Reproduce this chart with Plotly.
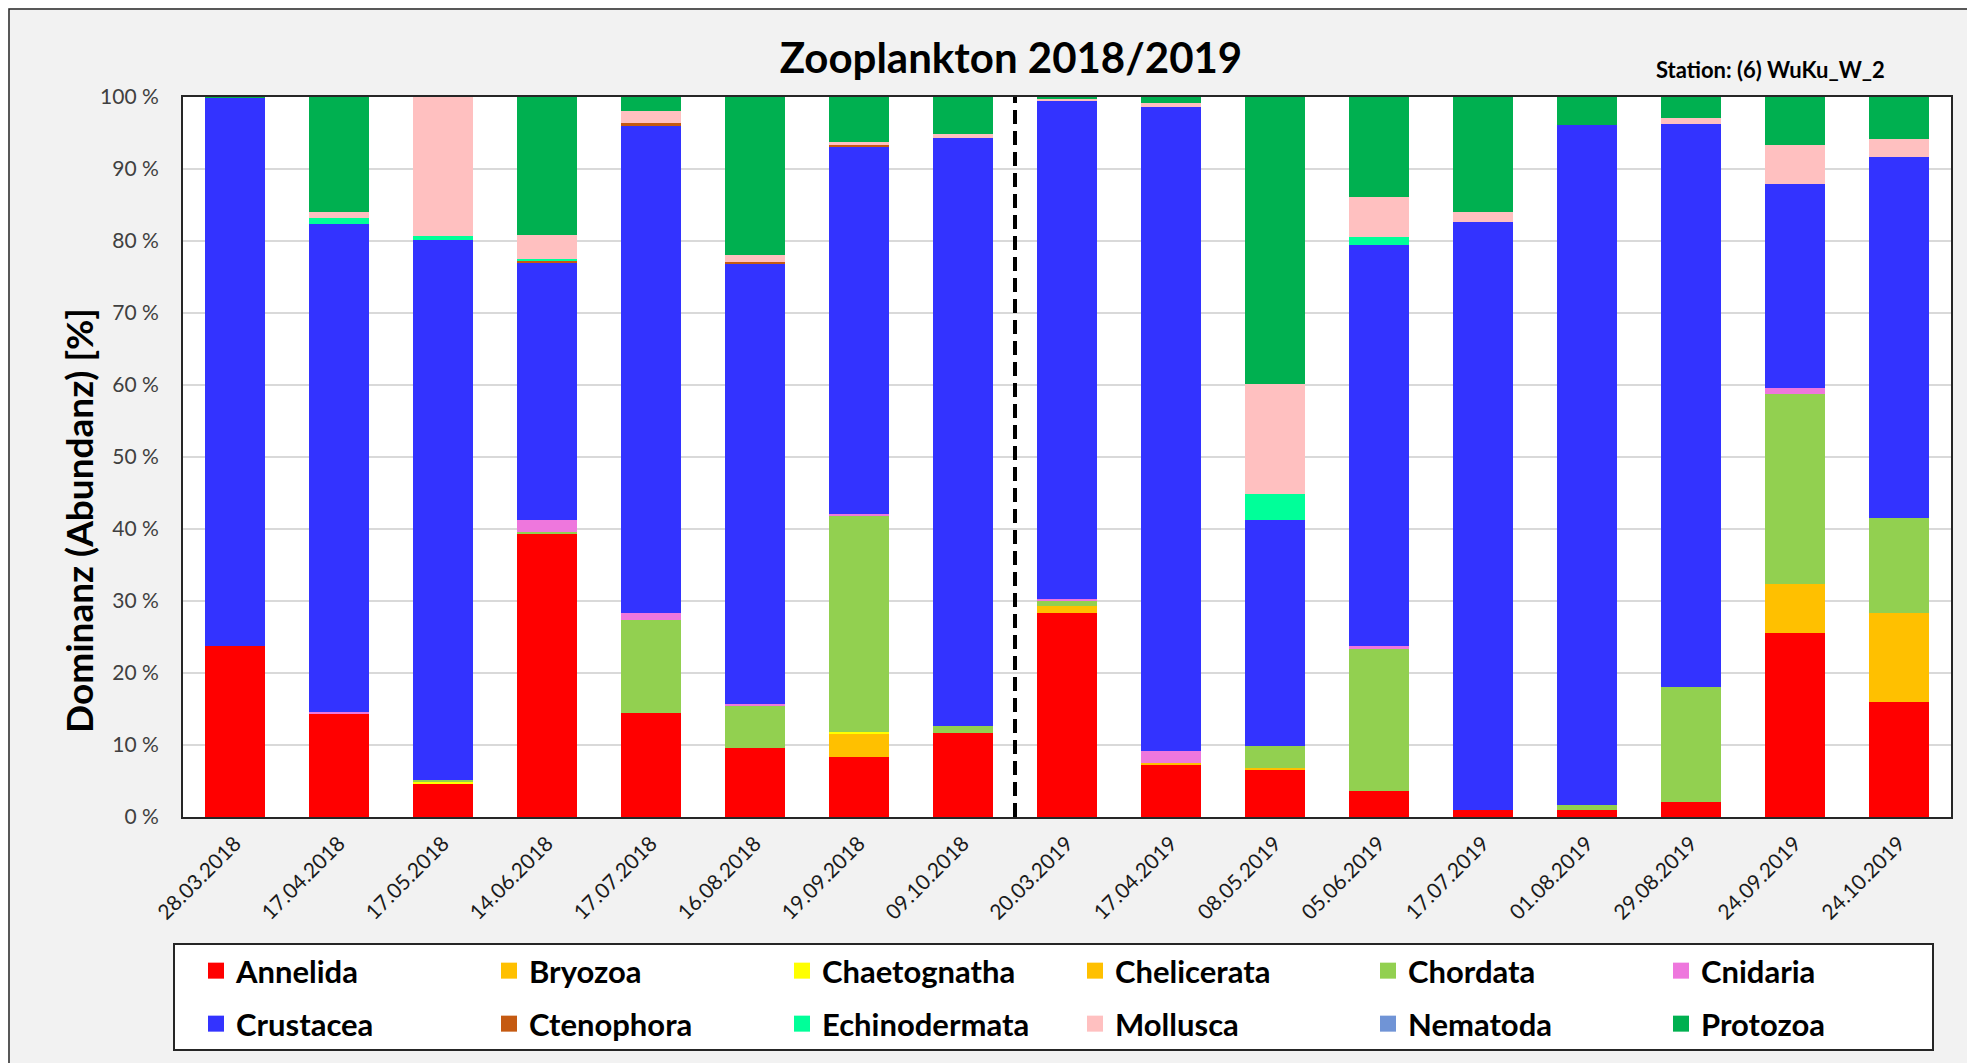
import plotly.graph_objects as go

dates = ["28.03.2018", "17.04.2018", "17.05.2018", "14.06.2018", "17.07.2018", "16.08.2018",
         "19.09.2018", "09.10.2018", "20.03.2019", "17.04.2019", "08.05.2019", "05.06.2019",
         "17.07.2019", "01.08.2019", "29.08.2019", "24.09.2019", "24.10.2019"]

annelida      = [23.7, 14.3, 4.6, 39.3, 14.5, 9.6, 8.4, 11.6, 28.4, 7.2, 6.5, 3.6, 1.0, 1.0, 2.1, 25.5, 16.0]
bryozoa       = [0, 0, 0, 0, 0, 0, 3.2, 0, 0, 0, 0, 0, 0, 0, 0, 0, 0]
chaetognatha  = [0, 0, 0.2, 0, 0, 0, 0.2, 0, 0, 0, 0, 0, 0, 0, 0, 0, 0]
chelicerata   = [0, 0, 0, 0, 0, 0, 0, 0, 0.9, 0.3, 0.3, 0, 0, 0, 0, 6.8, 12.3]
chordata      = [0, 0, 0.3, 0.3, 12.8, 5.8, 30.1, 1.1, 0.7, 0, 3.0, 19.8, 0, 0.6, 15.9, 26.4, 13.2]
cnidaria      = [0, 0.3, 0, 1.6, 1.0, 0.3, 0.2, 0, 0.3, 1.7, 0, 0.4, 0, 0, 0, 0.9, 0]
crustacea     = [76.2, 67.8, 75.0, 35.7, 67.7, 61.1, 51.0, 81.6, 69.1, 89.4, 31.5, 55.6, 81.7, 94.5, 78.2, 28.3, 50.2]
ctenophora    = [0, 0, 0, 0.3, 0.4, 0.3, 0.3, 0, 0, 0, 0, 0, 0, 0, 0, 0, 0]
echinodermata = [0, 0.8, 0.6, 0.3, 0, 0, 0, 0, 0, 0, 3.6, 1.1, 0, 0, 0, 0, 0]
mollusca      = [0, 0.8, 19.3, 3.4, 1.6, 0.9, 0.4, 0.5, 0.3, 0.6, 15.2, 5.6, 1.3, 0, 0.9, 5.4, 2.5]
nematoda      = [0, 0, 0, 0, 0, 0, 0, 0, 0, 0, 0, 0, 0, 0, 0, 0, 0]
protozoa      = [0.1, 16.0, 0, 19.1, 2.0, 22.0, 6.2, 5.2, 0.3, 0.8, 39.9, 13.9, 16.0, 3.9, 2.9, 6.7, 5.8]

series = [
    ("Annelida", annelida, "#FF0000"),
    ("Bryozoa", bryozoa, "#FFC000"),
    ("Chaetognatha", chaetognatha, "#FFFF00"),
    ("Chelicerata", chelicerata, "#FFC000"),
    ("Chordata", chordata, "#92D050"),
    ("Cnidaria", cnidaria, "#EE77DD"),
    ("Crustacea", crustacea, "#3333FF"),
    ("Ctenophora", ctenophora, "#C55A11"),
    ("Echinodermata", echinodermata, "#00FF99"),
    ("Mollusca", mollusca, "#FFC0C0"),
    ("Nematoda", nematoda, "#7094D6"),
    ("Protozoa", protozoa, "#00B050"),
]

y_ticks = [0, 10, 20, 30, 40, 50, 60, 70, 80, 90, 100]
y_ticktext = [f"{v} %" for v in y_ticks]

FONT = "Lato"
OFF = 8  # page body margin
W, H = 1967, 1055
L, R, T, B = 183 - OFF, 1951 - OFF, 97 - OFF, 817 - OFF
PW, PH = R - L, B - T

def px(x):  # page pixel -> paper
    return (x - OFF - L) / PW

def py(y):
    return (B - (y - OFF)) / PH

fig = go.Figure()
for i, (name, vals, col) in enumerate(series):
    fig.add_trace(go.Bar(x=dates, y=vals, name=name, marker=dict(color=col, line=dict(width=0)),
                         legendgroup=name, showlegend=False))
for i, (name, vals, col) in enumerate(series):
    fig.add_trace(go.Scatter(x=[None], y=[None], mode="markers", name=name, legendgroup=name,
                             marker=dict(symbol="square", size=19, color=col),
                             showlegend=True, legend="legend" if i < 6 else "legend2"))

legend_common = dict(orientation="h", xanchor="left", yanchor="middle", entrywidth=248,
                     entrywidthmode="pixels", bgcolor="rgba(0,0,0,0)", borderwidth=0,
                     font=dict(family=FONT, size=31, color="#000000", weight=700),
                     itemclick="toggle")

fig.update_layout(
    width=W, height=H,
    margin=dict(l=L, r=W - R, t=T, b=H - B, autoexpand=False),
    paper_bgcolor="#F2F2F2", plot_bgcolor="#FFFFFF",
    barmode="stack", bargap=0.428,
    title=dict(text="<b>Zooplankton 2018/2019</b>", x=(1011 - OFF) / W, xanchor="center",
               y=1 - (58 - OFF) / H, yanchor="middle", yref="container",
               font=dict(family=FONT, size=42, color="#000000")),
    legend=dict(x=px(196), y=py(971), **legend_common),
    legend2=dict(x=px(196), y=py(1024), **legend_common),
    xaxis=dict(type="category", tickangle=-45, tickfont=dict(family=FONT, size=21, color="#1A1A1A"),
               showline=True, mirror=True, linecolor="#262626", linewidth=2,
               showgrid=False, ticks="", zeroline=False, automargin=False, ticklabelstandoff=4),
    yaxis=dict(range=[0, 100], tickvals=y_ticks, ticktext=y_ticktext,
               tickfont=dict(family=FONT, size=21, color="#404040"),
               showline=True, mirror=True, linecolor="#262626", linewidth=2,
               showgrid=True, gridcolor="#D9D9D9", gridwidth=1.5, zeroline=False,
               ticks="", ticklabelstandoff=18, automargin=False),
    showlegend=True,
)

shapes = [
    # outer frame
    dict(type="rect", xref="paper", yref="paper", x0=px(9), x1=px(1974), y0=py(1080), y1=py(9),
         fillcolor="rgba(0,0,0,0)", line=dict(color="#262626", width=1.5), layer="below"),
    # legend box
    dict(type="rect", xref="paper", yref="paper", x0=px(174), x1=px(1933), y0=py(1050), y1=py(944),
         fillcolor="#FFFFFF", line=dict(color="#262626", width=2), layer="below"),
    # separator between the two years
    dict(type="line", xref="x", yref="y", x0=7.5, x1=7.5, y0=0, y1=100,
         line=dict(color="#000000", width=4, dash="14px,7px"), layer="above"),
]
fig.update_layout(shapes=shapes)

fig.add_annotation(text="<b>Dominanz (Abundanz) [%]</b>", textangle=-90, xref="paper", yref="paper",
                   x=px(78), y=py(521), xanchor="center", yanchor="middle", showarrow=False,
                   font=dict(family=FONT, size=37, color="#000000"))
fig.add_annotation(text="<b>Station: (6) WuKu_W_2</b>", xref="paper", yref="paper",
                   x=px(1770), y=py(70), xanchor="center", yanchor="middle", showarrow=False,
                   font=dict(family=FONT, size=22, color="#000000"))

fig.write_html("out.html")
